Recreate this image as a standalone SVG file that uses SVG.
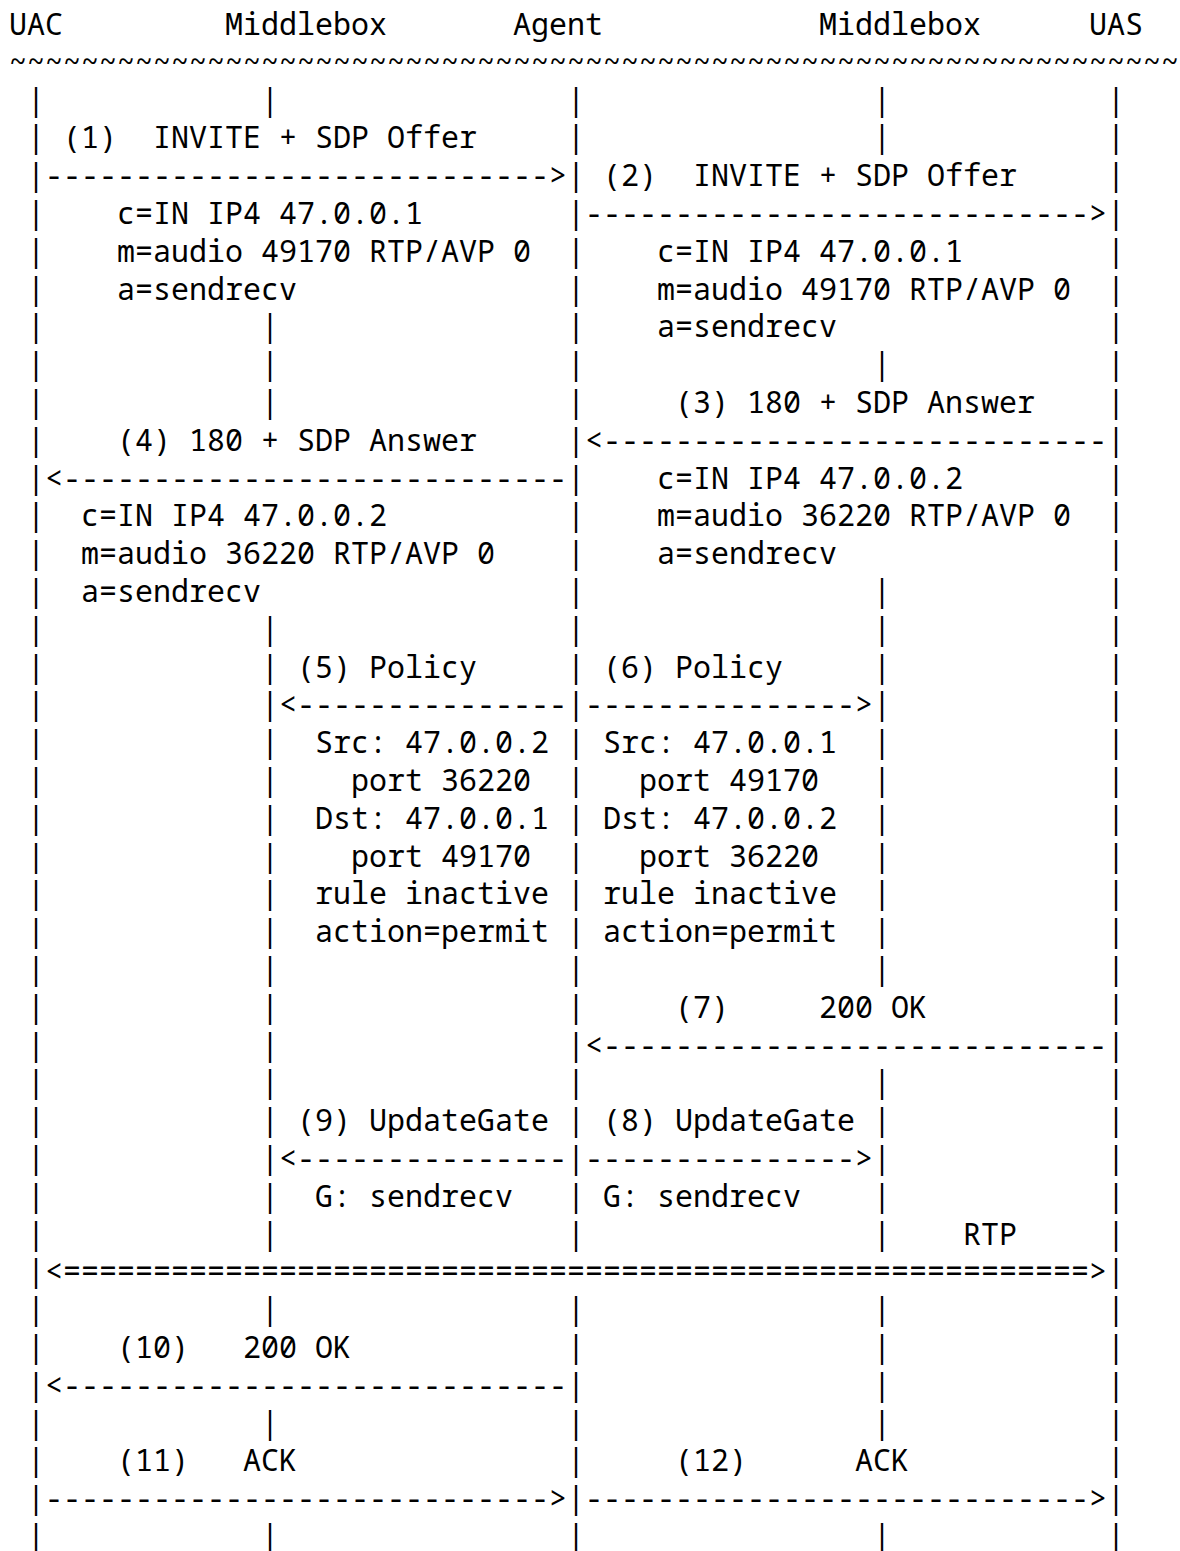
<svg xmlns="http://www.w3.org/2000/svg" width="1180" height="1551" viewBox="0 0 1180 1551">
  <style>
    .t { font-family: "Noto Sans Mono", "DejaVu Sans Mono", monospace; font-size: 30px; fill: #000; white-space: pre; }
  </style>
  <rect width="1180" height="1551" fill="#fff"/>

  <!-- Participants: one character cell is 18px wide, column c sits at x = 9 + 18c -->
  <g id="participants">
    <g id="uac"><text class="t" x="9" y="35">UAC</text></g>
    <g id="middlebox-a"><text class="t" x="225" y="35">Middlebox</text></g>
    <g id="agent"><text class="t" x="513" y="35">Agent</text></g>
    <g id="middlebox-b"><text class="t" x="819" y="35">Middlebox</text></g>
    <g id="uas"><text class="t" x="1089" y="35">UAS</text></g>
  </g>

  <g id="separator">
    <text class="t" x="9" y="72.8">~~~~~~~~~~~~~~~~~~~~~~~~~~~~~~~~~~~~~~~~~~~~~~~~~~~~~~~~~~~~~~~~~</text>
  </g>

  <!-- Lifelines, messages and SDP / policy annotations, one text row per line (37.8px pitch) -->
  <g id="connectors" xml:space="preserve">
    <text class="t" y="110.6"><tspan x="27">|</tspan><tspan x="261">|</tspan><tspan x="567">|</tspan><tspan x="873">|</tspan><tspan x="1107">|</tspan></text>
    <text class="t" y="148.4"><tspan x="27">|</tspan><tspan x="63">(1)  INVITE + SDP Offer</tspan><tspan x="567">|</tspan><tspan x="873">|</tspan><tspan x="1107">|</tspan></text>
    <text class="t" y="186.2"><tspan x="27">|----------------------------&gt;|</tspan><tspan x="603">(2)  INVITE + SDP Offer</tspan><tspan x="1107">|</tspan></text>
    <text class="t" y="224"><tspan x="27">|</tspan><tspan x="117">c=IN IP4 47.0.0.1</tspan><tspan x="567">|----------------------------&gt;|</tspan></text>
    <text class="t" y="261.8"><tspan x="27">|</tspan><tspan x="117">m=audio 49170 RTP/AVP 0</tspan><tspan x="567">|</tspan><tspan x="657">c=IN IP4 47.0.0.1</tspan><tspan x="1107">|</tspan></text>
    <text class="t" y="299.6"><tspan x="27">|</tspan><tspan x="117">a=sendrecv</tspan><tspan x="567">|</tspan><tspan x="657">m=audio 49170 RTP/AVP 0</tspan><tspan x="1107">|</tspan></text>
    <text class="t" y="337.4"><tspan x="27">|</tspan><tspan x="261">|</tspan><tspan x="567">|</tspan><tspan x="657">a=sendrecv</tspan><tspan x="1107">|</tspan></text>
    <text class="t" y="375.2"><tspan x="27">|</tspan><tspan x="261">|</tspan><tspan x="567">|</tspan><tspan x="873">|</tspan><tspan x="1107">|</tspan></text>
    <text class="t" y="413"><tspan x="27">|</tspan><tspan x="261">|</tspan><tspan x="567">|</tspan><tspan x="675">(3) 180 + SDP Answer</tspan><tspan x="1107">|</tspan></text>
    <text class="t" y="450.8"><tspan x="27">|</tspan><tspan x="117">(4) 180 + SDP Answer</tspan><tspan x="567">|&lt;----------------------------|</tspan></text>
    <text class="t" y="488.6"><tspan x="27">|&lt;----------------------------|</tspan><tspan x="657">c=IN IP4 47.0.0.2</tspan><tspan x="1107">|</tspan></text>
    <text class="t" y="526.4"><tspan x="27">|</tspan><tspan x="81">c=IN IP4 47.0.0.2</tspan><tspan x="567">|</tspan><tspan x="657">m=audio 36220 RTP/AVP 0</tspan><tspan x="1107">|</tspan></text>
    <text class="t" y="564.2"><tspan x="27">|</tspan><tspan x="81">m=audio 36220 RTP/AVP 0</tspan><tspan x="567">|</tspan><tspan x="657">a=sendrecv</tspan><tspan x="1107">|</tspan></text>
    <text class="t" y="602"><tspan x="27">|</tspan><tspan x="81">a=sendrecv</tspan><tspan x="567">|</tspan><tspan x="873">|</tspan><tspan x="1107">|</tspan></text>
    <text class="t" y="639.8"><tspan x="27">|</tspan><tspan x="261">|</tspan><tspan x="567">|</tspan><tspan x="873">|</tspan><tspan x="1107">|</tspan></text>
    <text class="t" y="677.6"><tspan x="27">|</tspan><tspan x="261">|</tspan><tspan x="297">(5) Policy</tspan><tspan x="567">|</tspan><tspan x="603">(6) Policy</tspan><tspan x="873">|</tspan><tspan x="1107">|</tspan></text>
    <text class="t" y="715.4"><tspan x="27">|</tspan><tspan x="261">|&lt;---------------|---------------&gt;|</tspan><tspan x="1107">|</tspan></text>
    <text class="t" y="753.2"><tspan x="27">|</tspan><tspan x="261">|</tspan><tspan x="315">Src: 47.0.0.2</tspan><tspan x="567">|</tspan><tspan x="603">Src: 47.0.0.1</tspan><tspan x="873">|</tspan><tspan x="1107">|</tspan></text>
    <text class="t" y="791"><tspan x="27">|</tspan><tspan x="261">|</tspan><tspan x="351">port 36220</tspan><tspan x="567">|</tspan><tspan x="639">port 49170</tspan><tspan x="873">|</tspan><tspan x="1107">|</tspan></text>
    <text class="t" y="828.8"><tspan x="27">|</tspan><tspan x="261">|</tspan><tspan x="315">Dst: 47.0.0.1</tspan><tspan x="567">|</tspan><tspan x="603">Dst: 47.0.0.2</tspan><tspan x="873">|</tspan><tspan x="1107">|</tspan></text>
    <text class="t" y="866.6"><tspan x="27">|</tspan><tspan x="261">|</tspan><tspan x="351">port 49170</tspan><tspan x="567">|</tspan><tspan x="639">port 36220</tspan><tspan x="873">|</tspan><tspan x="1107">|</tspan></text>
    <text class="t" y="904.4"><tspan x="27">|</tspan><tspan x="261">|</tspan><tspan x="315">rule inactive</tspan><tspan x="567">|</tspan><tspan x="603">rule inactive</tspan><tspan x="873">|</tspan><tspan x="1107">|</tspan></text>
    <text class="t" y="942.2"><tspan x="27">|</tspan><tspan x="261">|</tspan><tspan x="315">action=permit</tspan><tspan x="567">|</tspan><tspan x="603">action=permit</tspan><tspan x="873">|</tspan><tspan x="1107">|</tspan></text>
    <text class="t" y="980"><tspan x="27">|</tspan><tspan x="261">|</tspan><tspan x="567">|</tspan><tspan x="873">|</tspan><tspan x="1107">|</tspan></text>
    <text class="t" y="1017.8"><tspan x="27">|</tspan><tspan x="261">|</tspan><tspan x="567">|</tspan><tspan x="675">(7)</tspan><tspan x="819">200 OK</tspan><tspan x="1107">|</tspan></text>
    <text class="t" y="1055.6"><tspan x="27">|</tspan><tspan x="261">|</tspan><tspan x="567">|&lt;----------------------------|</tspan></text>
    <text class="t" y="1093.4"><tspan x="27">|</tspan><tspan x="261">|</tspan><tspan x="567">|</tspan><tspan x="873">|</tspan><tspan x="1107">|</tspan></text>
    <text class="t" y="1131.2"><tspan x="27">|</tspan><tspan x="261">|</tspan><tspan x="297">(9) UpdateGate</tspan><tspan x="567">|</tspan><tspan x="603">(8) UpdateGate</tspan><tspan x="873">|</tspan><tspan x="1107">|</tspan></text>
    <text class="t" y="1169"><tspan x="27">|</tspan><tspan x="261">|&lt;---------------|---------------&gt;|</tspan><tspan x="1107">|</tspan></text>
    <text class="t" y="1206.8"><tspan x="27">|</tspan><tspan x="261">|</tspan><tspan x="315">G: sendrecv</tspan><tspan x="567">|</tspan><tspan x="603">G: sendrecv</tspan><tspan x="873">|</tspan><tspan x="1107">|</tspan></text>
    <text class="t" y="1244.6"><tspan x="27">|</tspan><tspan x="261">|</tspan><tspan x="567">|</tspan><tspan x="873">|</tspan><tspan x="963">RTP</tspan><tspan x="1107">|</tspan></text>
    <text class="t" y="1282.4"><tspan x="27">|&lt;=========================================================&gt;|</tspan></text>
    <text class="t" y="1320.2"><tspan x="27">|</tspan><tspan x="261">|</tspan><tspan x="567">|</tspan><tspan x="873">|</tspan><tspan x="1107">|</tspan></text>
    <text class="t" y="1358"><tspan x="27">|</tspan><tspan x="117">(10)</tspan><tspan x="243">200 OK</tspan><tspan x="567">|</tspan><tspan x="873">|</tspan><tspan x="1107">|</tspan></text>
    <text class="t" y="1395.8"><tspan x="27">|&lt;----------------------------|</tspan><tspan x="873">|</tspan><tspan x="1107">|</tspan></text>
    <text class="t" y="1433.6"><tspan x="27">|</tspan><tspan x="261">|</tspan><tspan x="567">|</tspan><tspan x="873">|</tspan><tspan x="1107">|</tspan></text>
    <text class="t" y="1471.4"><tspan x="27">|</tspan><tspan x="117">(11)</tspan><tspan x="243">ACK</tspan><tspan x="567">|</tspan><tspan x="675">(12)</tspan><tspan x="855">ACK</tspan><tspan x="1107">|</tspan></text>
    <text class="t" y="1509.2"><tspan x="27">|----------------------------&gt;|----------------------------&gt;|</tspan></text>
    <text class="t" y="1547"><tspan x="27">|</tspan><tspan x="261">|</tspan><tspan x="567">|</tspan><tspan x="873">|</tspan><tspan x="1107">|</tspan></text>
  </g>
</svg>
